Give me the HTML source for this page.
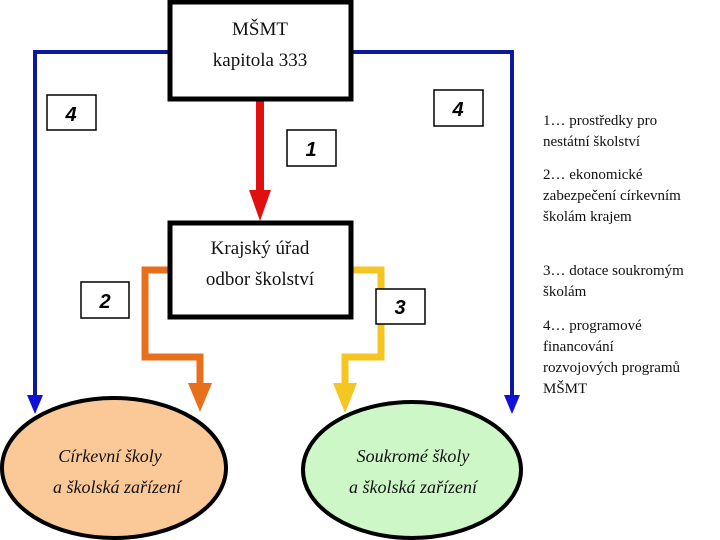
<!DOCTYPE html>
<html><head><meta charset="utf-8"><style>
body{margin:0;background:#fff;width:720px;height:540px;overflow:hidden;position:relative;font-family:"Liberation Serif",serif}
svg{position:absolute;left:0;top:0}
.leg{position:absolute;left:543px;font-size:15px;line-height:21px;color:#111}
.leg p{margin:0;position:absolute;width:143px}
</style></head><body>
<svg width="720" height="540" viewBox="0 0 720 540">
<g fill="none" stroke-linejoin="miter">
<polyline points="170,52 35,52 35,398" stroke="#0a1a9a" stroke-width="4"/>
<polyline points="350,52 512,52 512,398" stroke="#0a1a9a" stroke-width="4"/>
<polyline points="170,270 145,270 145,357 200,357 200,385" stroke="#e8701c" stroke-width="7"/>
<polyline points="350,270 381,270 381,357 345,357 345,385" stroke="#f5c621" stroke-width="7"/>
<line x1="260" y1="101" x2="260" y2="192" stroke="#e01010" stroke-width="8"/>
</g>
<polygon points="27,395 43,395 35,414" fill="#1010d8"/>
<polygon points="504,395 520,395 512,414" fill="#1010d8"/>
<polygon points="188,383 212,383 200,412" fill="#e8701c"/>
<polygon points="333,383 357,383 345,413" fill="#f5c621"/>
<polygon points="249,190 271,190 260,221" fill="#e01010"/>
<ellipse cx="114" cy="468" rx="112" ry="70" fill="#fbc898" stroke="#000" stroke-width="4"/>
<ellipse cx="412" cy="470" rx="109" ry="68" fill="#cdf7c7" stroke="#000" stroke-width="4"/>
<rect x="170" y="2" width="181" height="97" fill="#fff" stroke="#000" stroke-width="5"/>
<rect x="170" y="223" width="181" height="94" fill="#fff" stroke="#000" stroke-width="5"/>
<g fill="#fff" stroke="#000" stroke-width="1.5">
<rect x="47" y="95" width="49" height="35"/>
<rect x="434" y="90" width="49" height="36"/>
<rect x="287" y="130" width="49" height="36"/>
<rect x="81" y="282" width="48" height="36"/>
<rect x="376" y="289" width="49" height="35"/>
</g>
<g font-family="Liberation Sans,sans-serif" font-weight="bold" font-style="italic" font-size="20" text-anchor="middle">
<text x="71" y="121">4</text><text x="458" y="116">4</text><text x="311" y="156">1</text>
<text x="105" y="308">2</text><text x="400" y="314">3</text>
</g>
<g font-family="Liberation Serif,serif" font-size="19" text-anchor="middle" fill="#111">
<text x="260" y="35">MŠMT</text><text x="260" y="66">kapitola 333</text>
<text x="260" y="254">Krajský úřad</text><text x="260" y="285">odbor školství</text>
<g font-style="italic" font-size="18">
<text x="110" y="462">Církevní školy</text><text x="117" y="493">a školská zařízení</text>
<text x="413" y="462">Soukromé školy</text><text x="413" y="493">a  školská zařízení</text>
</g></g>
</svg>
<div class="leg">
<p style="top:111px">1… prostředky pro nestátní školství</p>
<p style="top:165px">2… ekonomické zabezpečení církevním školám krajem</p>
<p style="top:261px">3… dotace soukromým školám</p>
<p style="top:316px">4… programové financování rozvojových programů MŠMT</p>
</div>
</body></html>
